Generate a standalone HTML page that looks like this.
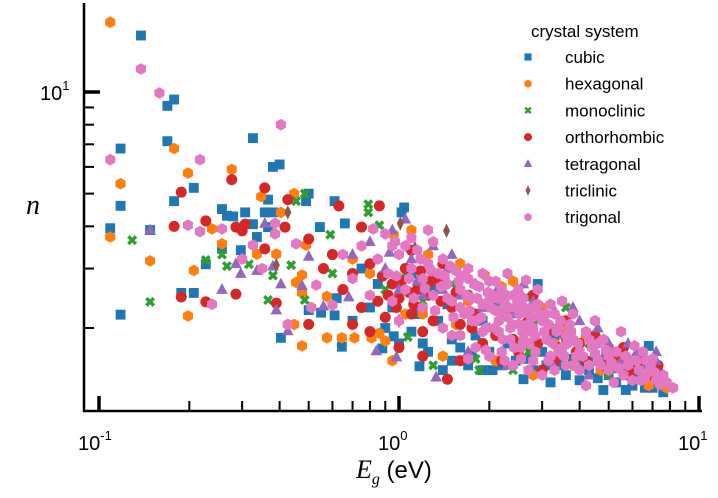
<!DOCTYPE html>
<html><head><meta charset="utf-8">
<style>
html,body{margin:0;padding:0;background:#fff;}
svg{display:block;font-family:"Liberation Sans",sans-serif;}
</style></head>
<body>
<svg id="chart" width="718" height="498" viewBox="0 0 718 498" xmlns="http://www.w3.org/2000/svg">
<g id="marks"></g>
<g id="axes"></g>
<g id="legend">
<text x="531" y="37" font-size="17" fill="#000">crystal system</text>
</g>
<text x="26" y="214" font-size="28" font-style="italic" font-family="Liberation Serif,serif">n</text>
<text x="356" y="478" font-size="24"><tspan font-style="italic" font-family="Liberation Serif,serif" font-size="26">E</tspan><tspan font-size="16" dy="6" font-style="italic" font-family="Liberation Serif,serif">g</tspan><tspan dy="-6"> (eV)</tspan></text>
</svg>
<script>
const names=["cubic","hexagonal","monoclinic","orthorhombic","tetragonal","triclinic","trigonal"];
const colors=["#1f77b4","#ff7f0e","#2ca02c","#d62728","#9467bd","#8c564b","#e377c2"];
const xTicks=[0.1,1,10];
const xTickLabels=["-1","0","1"];
const yTicks=[10];
const cubic=[[0.109,3.95],[0.118,6.8],[0.118,4.6],[0.118,2.19],[0.138,14.7],[0.148,3.9],[0.169,9.1],[0.178,9.5],[0.169,7.15],[0.207,5.2],[0.178,4.75],[0.188,2.54],[0.207,2.54],[0.227,3.09],[0.257,3.43],[0.257,4.5],[0.267,4.3],[0.28,4.28],[0.297,3.4],[0.307,4.4],[0.326,7.3],[0.326,4.06],[0.336,3.72],[0.357,4.4],[0.366,3.98],[0.366,4.8],[0.38,4.4],[0.38,6.0],[0.40,6.1],[0.49,4.75],[0.5,5.0],[0.61,4.75],[0.545,3.98],[0.66,4.08],[1.04,4.55],[1.02,4.4],[0.5,2.26],[0.55,2.22],[0.62,2.45],[0.61,2.18],[0.404,1.87],[0.645,1.76],[0.88,1.74],[0.96,1.89],[0.7,2.1],[0.8,2.3],[0.9,2.0],[1.0,1.8],[1.1,1.95],[1.17,1.54],[1.25,1.7],[1.35,2.1],[1.5,1.6],[1.6,1.75],[1.7,1.55],[1.8,1.9],[1.9,1.5],[2.0,1.7],[2.2,1.55],[2.3,1.8],[2.45,1.6],[2.6,1.41],[2.8,1.5],[3.0,1.7],[3.2,1.38],[3.4,1.55],[3.6,1.45],[3.8,1.62],[4.0,1.4],[4.3,1.5],[4.8,1.31],[5.0,1.45],[5.3,1.38],[5.7,1.31],[6.0,1.35],[6.4,1.42],[6.8,1.77],[7.0,1.33],[7.6,1.29],[7.3,1.5],[1.3,2.6],[1.1,2.9],[2.1,2.3],[2.9,2.7],[3.3,1.9],[4.5,1.6],[5.6,1.5],[0.75,3.0],[0.85,2.7],[1.4,1.5],[1.2,1.8],[1.5,1.85],[1.75,1.68],[2.05,1.5],[2.5,1.75],[2.7,1.62],[3.1,1.55],[3.5,1.65],[4.1,1.55],[4.6,1.42],[5.2,1.52],[6.2,1.48],[6.6,1.33],[0.95,2.3],[1.15,2.2],[1.45,2.35],[1.9,2.1]];
const hexagonal=[[0.109,16.1],[0.178,6.8],[0.118,5.35],[0.109,3.72],[0.198,5.75],[0.277,5.9],[0.347,4.9],[0.447,5.0],[0.404,4.4],[0.238,3.93],[0.96,3.78],[0.257,3.55],[0.336,3.31],[0.39,3.31],[0.49,3.52],[0.148,3.16],[0.207,2.96],[0.475,2.87],[0.454,2.73],[0.475,2.54],[0.575,2.48],[0.198,2.17],[0.426,2.05],[0.447,2.05],[0.475,1.77],[0.575,1.87],[0.645,1.87],[0.71,1.87],[0.81,1.87],[0.86,1.93],[0.9,1.83],[0.7,3.2],[0.8,2.9],[1.0,2.5],[1.2,2.2],[1.93,2.87],[1.6,3.1],[2.2,2.65],[2.4,2.75],[3.0,2.3],[3.5,2.0],[4.2,1.9],[5.0,1.75],[6.0,1.4],[6.8,1.35],[7.8,1.33],[2.8,1.45],[1.4,1.65],[2.1,1.6],[3.8,1.55],[5.5,1.6],[1.1,3.9],[1.3,2.9],[0.95,1.6],[1.25,3.3],[1.7,2.4],[2.6,2.05],[3.3,1.8],[4.7,1.5],[1.05,2.2],[1.55,2.05]];
const monoclinic=[[0.129,3.64],[0.148,2.39],[0.227,3.18],[0.257,3.3],[0.267,3.05],[0.316,3.09],[0.38,2.86],[0.366,2.42],[0.437,3.07],[0.485,2.42],[0.485,5.0],[0.454,4.75],[0.79,4.65],[0.79,4.4],[0.59,3.78],[0.86,4.03],[0.9,2.6],[1.2,2.4],[1.5,2.7],[2.2,2.2],[2.9,2.1],[3.3,2.02],[4.3,1.8],[1.3,1.55],[1.8,1.62],[2.4,1.5],[5.0,1.45],[6.0,1.6],[3.9,1.55],[1.05,2.9],[1.6,1.9],[2.7,1.7],[0.6,2.9],[3.6,2.3],[2.65,2.47],[1.85,1.5],[1.07,1.88]];
const orthorhombic=[[0.277,5.5],[0.188,5.05],[0.357,5.2],[0.426,4.8],[0.63,4.6],[0.86,4.6],[0.178,4.0],[0.227,4.15],[0.286,3.98],[0.3,3.88],[0.307,4.06],[0.417,3.98],[0.75,3.98],[0.357,3.43],[0.5,3.67],[0.188,2.47],[0.286,2.52],[0.227,2.39],[0.39,2.37],[0.5,2.05],[0.56,3.0],[0.6,3.3],[0.65,2.6],[0.7,2.9],[0.75,2.3],[0.8,3.1],[0.85,2.4],[0.9,2.15],[0.95,2.7],[1.0,2.45],[1.05,3.0],[1.1,2.2],[1.15,2.6],[1.2,1.95],[1.25,2.5],[1.3,2.1],[1.35,2.8],[1.45,1.41],[1.5,2.3],[1.6,2.05],[1.7,2.5],[1.8,2.2],[1.9,1.8],[2.0,2.4],[2.1,1.9],[2.3,2.2],[2.5,1.7],[2.7,2.1],[2.9,1.8],[3.1,1.95],[3.3,1.6],[3.6,2.1],[3.9,1.7],[4.2,1.6],[4.5,1.9],[4.8,1.55],[5.2,1.65],[5.6,1.75],[6.0,1.5],[6.4,1.6],[6.9,1.45],[7.3,1.55],[0.7,2.05],[0.8,1.95],[1.0,1.75],[1.1,3.4],[1.4,3.1],[2.2,1.6],[3.0,1.5],[2.8,2.5],[1.2,1.65],[1.6,1.6],[0.88,2.85],[0.92,2.5],[0.98,2.3],[1.02,2.75],[1.08,2.55],[1.12,2.35],[1.18,2.95],[1.28,2.75],[1.38,2.4],[1.55,2.55],[1.75,2.0],[2.4,1.85],[3.4,1.75],[4.0,1.8],[5.0,1.55],[5.8,1.45]];
const tetragonal=[[0.148,3.9],[0.357,4.08],[0.286,3.1],[0.297,2.9],[0.336,2.96],[0.38,3.05],[0.404,2.7],[0.475,2.67],[0.5,3.26],[0.257,2.6],[0.39,2.26],[0.56,2.32],[0.68,2.47],[0.426,1.96],[0.84,1.71],[0.98,1.64],[1.33,1.43],[0.7,3.3],[0.8,3.6],[0.9,3.0],[1.0,2.6],[1.1,3.2],[1.2,2.5],[1.3,2.95],[1.45,3.0],[1.5,3.3],[1.6,2.5],[1.8,2.7],[2.0,2.0],[2.2,2.4],[2.4,2.2],[2.6,1.9],[2.8,2.4],[3.0,2.2],[3.3,2.25],[3.6,1.85],[4.0,2.1],[4.6,2.0],[5.0,1.8],[5.5,1.6],[6.2,1.7],[7.2,1.7],[7.2,1.6],[6.6,1.55],[7.5,1.4],[1.7,1.7],[2.3,1.55],[3.2,1.6],[1.3,3.5],[0.95,3.9],[1.05,4.2],[2.6,2.7],[4.3,1.45],[1.9,2.3],[0.93,3.35],[1.15,2.75],[1.4,2.6],[2.1,2.55],[3.8,2.3],[4.8,1.65],[5.8,1.8]];
const triclinic=[[0.426,4.4],[0.39,3.07],[1.01,4.08],[1.44,3.88],[1.13,3.45],[1.0,2.1],[3.5,1.9],[2.7,2.0]];
const trigonal=[[0.109,6.3],[0.138,11.7],[0.159,9.93],[0.217,6.3],[0.404,8.0],[0.198,4.03],[0.217,3.86],[0.257,3.93],[0.386,4.08],[0.386,3.8],[0.326,3.52],[0.454,3.55],[0.53,2.68],[0.238,2.35],[0.51,2.3],[0.6,2.34],[0.426,2.05],[0.82,3.93],[0.75,3.5],[0.85,3.2],[0.92,2.9],[0.97,3.6],[1.0,3.3],[1.05,2.6],[1.1,3.0],[1.15,3.4],[1.2,2.8],[1.25,3.1],[1.3,2.5],[1.35,2.9],[1.4,3.2],[1.45,2.7],[1.5,2.4],[1.55,2.95],[1.6,2.6],[1.65,2.2],[1.7,2.8],[1.75,2.45],[1.8,2.1],[1.85,2.65],[1.9,2.35],[1.95,2.0],[2.0,2.75],[2.05,2.5],[2.1,2.25],[2.15,1.95],[2.2,2.6],[2.25,2.4],[2.3,2.15],[2.35,1.85],[2.4,2.5],[2.45,2.3],[2.5,2.05],[2.55,1.75],[2.6,2.45],[2.65,2.77],[2.7,2.2],[2.75,1.95],[2.8,1.6],[2.9,2.35],[3.0,2.1],[3.1,1.85],[3.2,1.65],[3.3,2.2],[3.4,2.0],[3.5,1.75],[3.6,1.55],[3.7,2.05],[3.8,1.85],[3.9,1.65],[4.0,1.5],[4.2,1.95],[4.4,1.75],[4.6,1.6],[4.8,1.85],[5.0,1.5],[5.3,1.7],[5.6,1.45],[5.9,1.6],[6.1,1.77],[6.3,1.5],[6.6,1.42],[6.9,1.55],[7.2,1.4],[7.6,1.45],[8.2,1.33],[1.2,2.3],[1.4,2.0],[1.6,1.9],[1.8,1.75],[2.0,1.65],[2.2,1.7],[2.4,1.55],[2.7,1.5],[3.0,1.45],[3.3,1.5],[1.3,3.6],[1.1,3.7],[0.95,2.4],[1.0,2.1],[1.7,3.0],[2.3,2.9],[2.9,2.6],[3.5,2.4],[4.5,2.1],[5.5,1.95],[6.5,1.7],[7.0,1.62],[1.9,2.9],[2.1,2.75],[2.5,2.6],[3.2,2.35],[3.8,2.2],[4.2,1.35],[5.2,1.38],[6.0,1.4],[7.4,1.36],[2.8,2.0],[3.6,1.9],[4.6,1.8],[1.45,2.45],[1.6,2.3],[1.75,2.1],[1.9,1.95],[2.15,2.1],[2.35,2.0],[2.6,1.85],[2.8,2.3],[3.1,2.2],[3.4,1.7],[4.0,1.7],[4.3,1.55],[5.0,1.65],[5.8,1.55],[6.8,1.48],[7.8,1.38],[0.65,3.3],[0.7,2.8],[0.8,2.5],[0.9,3.8],[1.05,3.5],[1.25,3.9],[0.3,3.2],[0.35,3.0],[0.95,3.5],[1.22,2.62],[1.32,2.25],[1.42,2.85],[1.52,2.15],[1.58,2.75],[1.68,2.5],[1.72,2.25],[1.82,2.45],[1.88,2.15],[1.98,2.55],[2.02,2.3],[2.08,2.0],[2.12,2.45],[2.18,2.25],[2.22,1.85],[2.28,2.5],[2.32,2.3],[2.38,2.05],[2.42,1.75],[2.48,2.4],[2.52,2.2],[2.58,1.95],[2.62,2.3],[2.68,2.05],[2.72,1.8],[2.78,2.15],[2.85,1.9],[2.95,2.2],[3.05,1.95],[3.15,2.05],[3.25,1.8],[3.35,1.95],[3.45,2.1],[3.55,1.65],[3.65,1.8],[3.75,1.95],[3.85,1.55],[3.95,1.8],[4.1,1.65],[4.3,1.85],[4.5,1.68],[4.7,1.55],[4.9,1.72],[5.1,1.58],[5.4,1.52],[5.7,1.65],[6.2,1.6],[6.4,1.4],[6.7,1.6],[7.1,1.48],[7.5,1.42],[1.08,2.8],[1.18,3.2],[1.28,2.95],[1.38,2.65],[1.48,3.05],[1.62,2.85],[1.78,2.7],[2.0,2.4],[1.5,1.9],[1.7,1.62],[1.95,1.72],[2.25,1.6],[2.55,1.62],[2.85,1.7],[3.15,1.6],[0.98,2.85],[1.12,2.45]];
const series=[cubic,hexagonal,monoclinic,orthorhombic,tetragonal,triclinic,trigonal];

const NS="http://www.w3.org/2000/svg";
function xScale(e){return 99+300*Math.log10(e/0.1);}
function yScale(n){return 92+337.6*Math.log10(10/n);}
function mk(tag,attrs,parent){const el=document.createElementNS(NS,tag);for(const k in attrs)el.setAttribute(k,attrs[k]);parent.appendChild(el);return el;}
function marker(kind,x,y,s,color,parent){
  let el;
  if(kind===0){el=mk('rect',{x:x-s*0.85,y:y-s*0.85,width:s*1.7,height:s*1.7,fill:color},parent);}
  else if(kind===1||kind===6){let p=[];for(let i=0;i<6;i++){const a=Math.PI/6+i*Math.PI/3;p.push((x+s*Math.cos(a)).toFixed(1)+','+(y+s*Math.sin(a)).toFixed(1));}
    el=mk('polygon',{points:p.join(' '),fill:color},parent);}
  else if(kind===2){const d=s*0.65;el=mk('path',{d:`M${x-d},${y-d}L${x+d},${y+d}M${x-d},${y+d}L${x+d},${y-d}`,stroke:color,'stroke-width':s*0.6,fill:'none'},parent);}
  else if(kind===3){el=mk('circle',{cx:x,cy:y,r:s*0.95,fill:color},parent);}
  else if(kind===4){el=mk('polygon',{points:`${x},${y-s*1.1} ${x+s},${y+s*0.75} ${x-s},${y+s*0.75}`,fill:color},parent);}
  else {el=mk('polygon',{points:`${x},${y-s*1.25} ${x+s*0.6},${y} ${x},${y+s*1.25} ${x-s*0.6},${y}`,fill:color},parent);}
  return el;
}
const marks=document.getElementById('marks');
series.forEach((arr,si)=>{
  const g=mk('g',{},marks);
  
  
  arr.forEach(p=>{
    const el=marker(si,xScale(p[0]),yScale(p[1]),5.8,colors[si],g);
    
    
  });
});
const leg=document.getElementById('legend');
names.forEach((nm,i)=>{
  const y=57+i*26.7;
  const m=marker(i,528,y,4.2,colors[i],leg);
  
  
  const t=mk('text',{x:565,y:y+6,'font-size':17,fill:'#000'},leg);
  t.textContent=nm;
  
  
});
const ax=document.getElementById('axes');
const yAxis=mk('line',{x1:84,y1:3,x2:84,y2:412,stroke:'#000','stroke-width':2.5},ax);


const xAxis=mk('line',{x1:83,y1:411,x2:702,y2:411,stroke:'#000','stroke-width':2.5},ax);


for(let dec=0.01;dec<=1;dec*=10){for(let k=1;k<=9;k++){const v=dec*k*10;const x=xScale(v);if(x<84||x>703)continue;
  const major=(k===1);
  const tk=mk('line',{x1:x,y1:411,x2:x,y2:major?396:401,stroke:'#000','stroke-width':major?3.5:2},ax);
  
  }}
xTicks.forEach((v,i)=>{
  const t=mk('text',{x:xScale(v)-21,y:450,'font-size':20,fill:'#000'},ax);
  t.innerHTML='10<tspan font-size="13" dy="-10">'+xTickLabels[i]+'</tspan>';
  
  
});
for(let k=2;k<=10;k++){const y=yScale(k);
  const major=(k===10);
  const tk=mk('line',{x1:84,y1:y,x2:major?100:94,y2:y,stroke:'#000','stroke-width':major?3.5:2},ax);
  
  }
yTicks.forEach(v=>{
  const t=mk('text',{x:40,y:yScale(v)+8,'font-size':20,fill:'#000'},ax);
  t.innerHTML='10<tspan font-size="13" dy="-10">1</tspan>';
  
  
});
</script>
</body></html>
